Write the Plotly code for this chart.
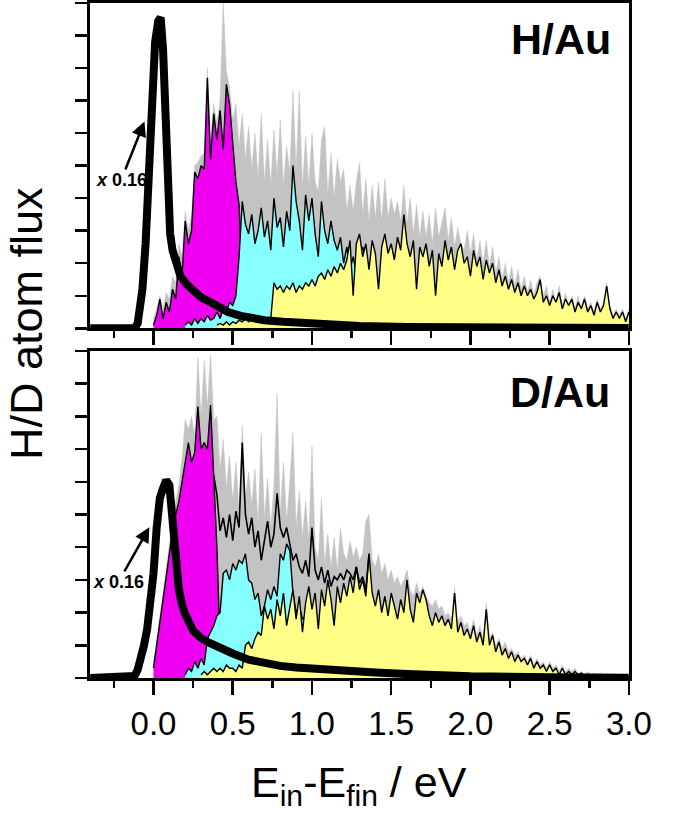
import plotly.graph_objects as go

# ---------------- data (arbitrary flux units) ----------------
STEP = 0.02  # eV bin width of the histogram-like distributions

# ---- H/Au panel ----
H_GRAY_START = 0.00
H_gray = [0.3, 0.6, 1.0, 0.6, 1.1, 0.9, 1.6, 1.4, 2.6, 2.2,
          3.6, 3.0, 3.5, 5.0, 5.1, 5.3, 5.4, 8.0, 5.8, 6.9,
          6.3, 7.0, 10.0, 7.9, 7.4, 6.4, 6.9, 5.6, 6.6, 5.2,
          6.2, 4.9, 6.0, 4.6, 6.6, 4.5, 5.8, 4.4, 6.1, 4.7,
          6.4, 4.4, 5.6, 4.8, 7.3, 4.9, 7.3, 4.3, 5.9, 4.4,
          6.0, 4.5, 4.2, 5.8, 6.2, 4.1, 5.4, 4.0, 5.2, 4.5,
          4.9, 3.6, 4.4, 3.6, 4.5, 5.1, 3.5, 4.6, 3.3, 4.4,
          3.4, 4.5, 3.3, 4.6, 3.4, 4.0, 3.5, 3.9, 3.3, 4.4,
          3.2, 4.0, 2.9, 3.8, 2.8, 3.6, 2.8, 3.5, 2.6, 3.7,
          2.8, 3.3, 3.7, 2.7, 3.4, 2.5, 3.1, 2.6, 2.4, 3.0,
          2.3, 2.9, 2.1, 2.7, 2.0, 2.7, 1.9, 2.5, 1.7, 2.2,
          1.5, 2.0, 1.4, 1.9, 1.3, 1.8, 1.2, 1.6, 1.1, 1.5,
          1.0, 1.4, 1.6, 1.0, 1.3, 0.8, 1.2, 0.8, 1.3, 0.7,
          1.1, 0.7, 1.0, 0.6, 1.0, 0.6, 1.0, 0.6, 0.8, 0.5,
          0.9, 0.6, 0.8, 1.4, 0.7, 0.4, 0.6, 0.4, 0.6, 0.3,
          0.6]

H_MAG_START = 0.00
H_magenta = [0.1, 0.4, 0.9, 0.3, 0.8, 0.5, 1.2, 0.9, 2.2, 1.6,
             3.3, 2.6, 3.0, 4.8, 4.6, 5.0, 4.9, 7.7, 5.2, 6.6,
             5.8, 6.7, 5.5, 7.5, 6.9, 5.8, 4.5, 3.8, 1.2, 0.3,
             0.0]

H_CYAN_START = 0.20
H_cyan = [0.1, 0.2, 0.1, 0.3, 0.15, 0.3, 0.2, 0.4, 0.25, 0.3,
          0.5, 0.3, 0.6, 0.5, 0.8, 0.7, 1.0, 2.2, 3.9, 3.2,
          2.9, 3.5, 2.6, 3.0, 3.7, 2.8, 3.3, 2.4, 4.0, 3.1,
          3.4, 2.5, 3.6, 3.0, 5.0, 3.9, 3.3, 2.4, 4.1, 3.3,
          4.0, 2.9, 2.2, 3.9, 3.0, 2.6, 3.3, 2.7, 2.4, 2.8,
          2.0, 2.5, 1.8, 2.2, 1.7, 2.3, 2.5, 2.1, 1.5, 1.6,
          1.2, 1.0, 0.9, 0.7, 0.5, 0.3]

H_YEL_START = 0.40
H_yellow = [0.1, 0.15, 0.1, 0.2, 0.1, 0.2, 0.15, 0.25, 0.2, 0.3,
            0.2, 0.3, 0.25, 0.3, 0.2, 0.3, 0.25, 0.3,
            1.4, 1.2, 1.3, 1.1, 1.3, 1.2, 1.4, 1.1, 1.3, 1.2, 1.4, 1.3,
            1.5, 1.3, 1.6, 1.7, 1.5, 1.8, 1.6, 1.9, 1.7, 2.0,
            1.8, 2.1, 2.7, 1.0, 2.6, 2.9, 2.2, 2.6, 1.8, 2.7,
            2.3, 1.2, 2.5, 2.9, 2.3, 2.6, 2.1, 2.8, 2.4, 3.5,
            2.6, 2.2, 2.7, 1.2, 2.5, 2.2, 2.6, 1.9, 2.4, 1.0,
            2.3, 1.9, 2.7, 2.1, 2.5, 1.8, 2.4, 2.6, 2.0, 2.2,
            1.6, 2.4, 1.9, 2.2, 1.5, 2.1, 1.7, 2.0, 1.4, 1.8,
            1.3, 1.6, 1.2, 1.5, 1.1, 1.4, 1.0, 1.3, 1.0, 1.2,
            0.9, 1.1, 1.5, 0.8, 1.0, 0.7, 1.0, 0.8, 1.1, 0.6,
            0.9, 0.7, 0.9, 0.5, 0.8, 0.6, 0.9, 0.5, 0.7, 0.4,
            0.8, 0.5, 0.7, 1.3, 0.6, 0.3, 0.5, 0.3, 0.5, 0.2,
            0.5]

H_thick_E = [-0.40, -0.12, -0.10, -0.08, -0.07, -0.05, -0.03, -0.01, 0.01, 0.03,
             0.045, 0.06, 0.07, 0.085, 0.095, 0.105, 0.12, 0.14, 0.17, 0.21,
             0.25, 0.30, 0.37, 0.42, 0.47, 0.55, 0.62, 0.70, 0.82, 0.95,
             1.10, 1.30, 1.60, 2.00, 3.00]
H_thick = [0.0, 0.0, 0.15, 0.7, 1.2, 2.6, 4.9, 7.2, 8.8, 9.45,
           9.55, 8.6, 7.0, 4.4, 3.6, 2.9, 2.4, 2.0, 1.6, 1.35,
           1.18, 0.95, 0.78, 0.65, 0.5, 0.38, 0.3, 0.25, 0.2, 0.15,
           0.1, 0.07, 0.04, 0.02, 0.01]

# ---- D/Au panel ----
D_GRAY_START = 0.00
D_gray = [0.5, 1.2, 1.8, 2.6, 3.3, 4.1, 4.8, 5.4, 5.9, 6.7,
          7.9, 7.6, 8.0, 7.4, 9.8, 8.0, 9.7, 8.3, 9.9, 7.9,
          8.0, 6.4, 7.3, 5.8, 6.8, 5.4, 6.6, 5.1, 7.7, 5.5,
          6.3, 5.3, 6.4, 4.7, 7.5, 4.9, 6.1, 4.6, 5.9, 8.7,
          5.0, 6.6, 4.8, 6.0, 7.5, 4.6, 5.7, 4.3, 5.4, 4.2,
          7.1, 4.0, 3.6, 5.5, 3.5, 4.4, 3.4, 4.3, 3.3, 4.6,
          3.8, 3.6, 4.2, 3.7, 4.0, 3.6, 3.8, 4.8, 5.0, 3.6,
          3.4, 3.8, 3.2, 3.5, 3.0, 3.3, 2.9, 3.1, 2.8, 3.0,
          3.3, 2.7, 2.5, 2.9, 2.6, 2.8, 2.5, 2.3, 2.2, 2.4,
          2.1, 2.2, 1.9, 2.0, 1.8, 2.8, 1.7, 1.9, 1.6, 1.7,
          1.4, 1.8, 1.3, 1.6, 1.2, 2.3, 1.2, 1.4, 1.0, 1.2,
          0.9, 1.1, 0.8, 0.9, 0.7, 0.8, 0.6, 0.7, 0.5, 0.7,
          0.4, 0.6, 0.4, 0.5, 0.3, 0.5, 0.3, 0.4, 0.2, 0.4,
          0.2, 0.3, 0.2, 0.3, 0.1, 0.2, 0.1, 0.2, 0.1, 0.15,
          0.1, 0.15, 0.05, 0.1, 0.1, 0.05, 0.1, 0.05, 0.1, 0.05,
          0.05]

D_MAG_START = 0.00
D_magenta = [0.3, 1.0, 1.6, 2.3, 3.0, 3.8, 4.5, 5.0, 5.4, 6.0,
             6.6, 7.2, 6.6, 6.9, 8.3, 7.0, 7.2, 7.0, 8.35, 6.2,
             4.0, 1.0, 0.0]

D_CYAN_START = 0.20
D_cyan = [0.1, 0.3, 0.2, 0.5, 0.3, 0.6, 0.4, 1.2, 1.4, 1.6,
          1.9, 2.0, 3.2, 3.3, 3.0, 3.5, 3.3, 3.6, 3.5, 3.8,
          3.0, 2.9, 2.4, 2.6, 1.9, 2.2, 2.7, 2.4, 2.8, 2.5,
          3.8, 3.6, 4.1, 3.9, 2.6, 2.0, 2.2, 1.8, 1.9, 1.6,
          1.7, 1.4, 1.5, 1.2, 1.3, 1.0, 0.9, 1.0, 0.7, 0.6,
          0.5, 0.4, 0.3, 0.2, 0.1, 0.0]

D_YEL_START = 0.30
D_yellow = [0.1, 0.2, 0.1, 0.2, 0.3, 0.2, 0.3, 0.2, 0.4, 0.3, 0.3, 0.2, 0.4, 0.3,
            1.0, 1.1, 0.9, 1.2, 1.4, 1.3, 2.2, 1.8, 2.1, 1.5, 2.4,
            1.9, 2.6, 1.6, 2.2, 2.7, 1.8, 2.5, 1.4, 2.3, 2.8,
            2.1, 2.6, 1.5, 2.7, 2.2, 3.0, 2.4, 1.6, 2.8, 2.3,
            2.9, 2.5, 3.1, 2.6, 3.4, 2.7, 3.0, 2.5, 3.8, 2.6,
            2.2, 2.7, 2.0, 2.5, 1.9, 2.6, 2.2, 1.8, 2.4, 2.0,
            3.0, 2.1, 1.7, 2.6, 2.3, 2.7, 2.4, 1.9, 1.6, 2.0,
            1.7, 1.9, 1.6, 1.8, 1.5, 2.6, 1.4, 1.7, 1.3, 1.5,
            1.2, 1.6, 1.1, 1.4, 1.0, 2.1, 1.0, 1.3, 0.8, 1.1,
            0.7, 0.9, 0.6, 0.8, 0.5, 0.7, 0.5, 0.6, 0.4, 0.6,
            0.3, 0.5, 0.3, 0.4, 0.2, 0.4, 0.2, 0.3, 0.1, 0.3,
            0.1, 0.2, 0.1, 0.2, 0.1, 0.15, 0.05, 0.1, 0.05, 0.1,
            0.05, 0.1, 0.0, 0.05, 0.05, 0.0, 0.05, 0.0, 0.05, 0.0,
            0.0]

D_TOTAL_START = 0.38
D_total = [6.2, 5.6, 4.5, 4.9, 4.3, 5.0, 4.2, 5.1, 4.6, 7.2,
           5.0, 4.4, 4.9, 4.0, 4.5, 3.6, 4.2, 4.8, 4.0, 4.4,
           5.65, 4.6, 4.3, 4.6, 4.1, 3.6, 3.8, 3.4, 3.2, 3.6,
           3.1, 4.6, 3.3, 3.0, 3.4, 2.9, 3.3, 2.8, 3.1, 3.0,
           3.2, 3.0, 3.3, 3.2, 3.0, 3.4, 2.9, 3.1, 2.7, 3.8]

D_thick_E = [-0.40, -0.14, -0.12, -0.10, -0.08, -0.06, -0.04, -0.02, 0.00, 0.02,
             0.04, 0.06, 0.08, 0.10, 0.12, 0.14, 0.16, 0.18, 0.20, 0.25,
             0.30, 0.35, 0.40, 0.45, 0.50, 0.60, 0.70, 0.80, 0.90, 1.00,
             1.20, 1.40, 1.60, 1.80, 2.00, 2.50, 3.00]
D_thick = [0.0, 0.0, 0.06, 0.25, 0.55, 1.0, 1.5, 2.3, 3.2, 4.6,
           5.5, 5.8, 6.05, 5.9, 4.7, 3.4, 2.7, 2.25, 1.95, 1.45,
           1.22, 1.08, 0.95, 0.85, 0.75, 0.56, 0.45, 0.37, 0.32, 0.28,
           0.23, 0.17, 0.12, 0.08, 0.05, 0.02, 0.01]

X_RANGE = [-0.4, 3.0]
Y_RANGE = [0, 10]
SCALE_LABEL = "<b><i>x</i> 0.16</b>"

# ---------------- styling ----------------
GRAY = "#c3c3c3"
MAGENTA = "#f000f0"
CYAN = "#88ffff"
YELLOW = "#ffff88"
FONT = "Liberation Sans, Arial, sans-serif"

W, H = 677, 817


def energies(start, n):
    return [round(start + STEP * i, 4) for i in range(n)]


def px_x(p):
    return p / W


def px_y(p):
    return 1 - p / H


fig = go.Figure()


def add_panel(xa, ya, gray, gray0, mag, mag0, cyan, cyan0, yel, yel0,
              thick_e, thick, total=None, total0=None):
    fig.add_trace(go.Scatter(x=energies(gray0, len(gray)), y=gray, mode="lines",
                             line=dict(color=GRAY, width=0.5), fill="tozeroy",
                             fillcolor=GRAY, xaxis=xa, yaxis=ya, hoverinfo="skip"))
    for vals, start, col in ((mag, mag0, MAGENTA), (cyan, cyan0, CYAN), (yel, yel0, YELLOW)):
        fig.add_trace(go.Scatter(x=energies(start, len(vals)), y=vals, mode="lines",
                                 line=dict(color="black", width=1.4), fill="tozeroy",
                                 fillcolor=col, xaxis=xa, yaxis=ya, hoverinfo="skip"))
    if total is not None:
        fig.add_trace(go.Scatter(x=energies(total0, len(total)), y=total, mode="lines",
                                 line=dict(color="black", width=1.6),
                                 xaxis=xa, yaxis=ya, hoverinfo="skip"))
    fig.add_trace(go.Scatter(x=thick_e, y=thick, mode="lines",
                             line=dict(color="black", width=8),
                             xaxis=xa, yaxis=ya, hoverinfo="skip"))


add_panel("x2", "y2", H_gray, H_GRAY_START, H_magenta, H_MAG_START, H_cyan, H_CYAN_START,
          H_yellow, H_YEL_START, H_thick_E, H_thick)
add_panel("x", "y", D_gray, D_GRAY_START, D_magenta, D_MAG_START, D_cyan, D_CYAN_START,
          D_yellow, D_YEL_START, D_thick_E, D_thick, D_total, D_TOTAL_START)

xdom = [px_x(93.3), px_x(651)]
common_x = dict(range=X_RANGE, tick0=0, dtick=0.5, ticks="outside", ticklen=14, tickwidth=2.5,
                tickcolor="black", showline=True, linewidth=3, linecolor="black", mirror=True,
                showgrid=False, zeroline=False, domain=xdom,
                minor=dict(tick0=0, dtick=0.25, ticks="outside", ticklen=7, tickwidth=2.5,
                           tickcolor="black", showgrid=False))
common_y = dict(range=Y_RANGE, tick0=0, dtick=1, ticks="outside", ticklen=12, tickwidth=2.5,
                tickcolor="black", showline=True, linewidth=3, linecolor="black", mirror=True,
                showgrid=False, zeroline=False, showticklabels=False)

fig.update_layout(
    width=W, height=H, margin=dict(l=0, r=0, t=0, b=0),
    paper_bgcolor="white", plot_bgcolor="white", showlegend=False,
    font=dict(family=FONT, color="black"),
    xaxis=dict(**common_x, anchor="y", tickformat=".1f",
               tickfont=dict(size=33, family=FONT, color="black")),
    xaxis2=dict(**common_x, anchor="y2", matches="x", showticklabels=False),
    yaxis=dict(**common_y, domain=[px_y(678), px_y(351)], anchor="x"),
    yaxis2=dict(**common_y, domain=[px_y(328.3), px_y(3)], anchor="x2"),
)

ann = []
ann.append(dict(text="<b>H/Au</b>", x=px_x(635), y=px_y(39), xref="paper", yref="paper",
                xanchor="right", yanchor="middle", showarrow=False,
                font=dict(size=43, family=FONT, color="black")))
ann.append(dict(text="<b>D/Au</b>", x=px_x(634), y=px_y(392), xref="paper", yref="paper",
                xanchor="right", yanchor="middle", showarrow=False,
                font=dict(size=43, family=FONT, color="black")))
# scale labels with arrows: arrow tip at (x, y), label centred at (ax, ay), data coords
ann.append(dict(text=SCALE_LABEL, x=-0.057, y=6.36, ax=-0.204, ay=4.56, xref="x2", yref="y2",
                axref="x2", ayref="y2", showarrow=True, arrowhead=2, arrowsize=1.2,
                arrowwidth=2.5, arrowcolor="black", standoff=0, borderpad=0,
                font=dict(size=18, family=FONT, color="black")))
ann.append(dict(text=SCALE_LABEL, x=-0.026, y=4.61, ax=-0.221, ay=2.94, xref="x", yref="y",
                axref="x", ayref="y", showarrow=True, arrowhead=2, arrowsize=1.2,
                arrowwidth=2.5, arrowcolor="black", standoff=0, borderpad=0,
                font=dict(size=18, family=FONT, color="black")))
ann.append(dict(text="H/D atom flux", x=px_x(27), y=px_y(324), xref="paper", yref="paper",
                xanchor="center", yanchor="middle", textangle=-90, showarrow=False,
                borderpad=0, font=dict(size=45, family=FONT, color="black")))
ann.append(dict(text="E<sub>in</sub>-E<sub>fin</sub> / eV", x=px_x(372), y=px_y(757),
                xref="paper", yref="paper", xanchor="center", yanchor="top", showarrow=False,
                borderpad=0, font=dict(size=43, family=FONT, color="black")))
fig.update_layout(annotations=ann)

fig.write_html("out.html",
               config={"displayModeBar": False, "staticPlot": True},
               post_script="document.body.style.margin='0px';"
                           "document.body.style.overflow='hidden';")
